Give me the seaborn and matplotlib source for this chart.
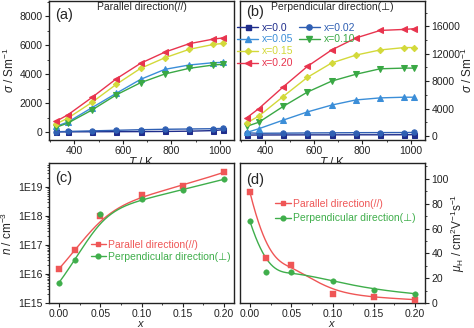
import numpy as np
import pandas as pd
import matplotlib
matplotlib.use("Agg")
import matplotlib.pyplot as plt
import seaborn as sns
from matplotlib.lines import Line2D
from matplotlib.ticker import MultipleLocator, FixedLocator, LogLocator, NullFormatter, FuncFormatter

# ---------------- data ----------------
temperature = [323, 373, 473, 573, 673, 773, 873, 973, 1013]
series_labels = ["x=0.0", "x=0.02", "x=0.05", "x=0.10", "x=0.15", "x=0.20"]

# electrical conductivity, parallel direction (S/m)
sig_par_000 = [10, 15, 20, 25, 30, 40, 60, 100, 160]
sig_par_002 = [20, 40, 80, 120, 160, 190, 210, 230, 250]
sig_par_005 = [385, 690, 1690, 2680, 3640, 4330, 4630, 4790, 4810]
sig_par_010 = [320, 620, 1530, 2570, 3410, 4010, 4400, 4630, 4680]
sig_par_015 = [550, 960, 2060, 3300, 4400, 5130, 5710, 6050, 6120]
sig_par_020 = [730, 1190, 2400, 3680, 4750, 5520, 6100, 6420, 6500]

# electrical conductivity, perpendicular direction (S/m)
sig_per_000 = [120, 130, 140, 150, 150, 160, 160, 170, 170]
sig_per_002 = [450, 380, 400, 430, 450, 470, 480, 490, 500]
sig_per_005 = [500, 1050, 2300, 3500, 4500, 5250, 5550, 5650, 5650]
sig_per_010 = [1400, 2000, 4300, 6400, 8000, 9000, 9800, 9900, 9900]
sig_per_015 = [1900, 2900, 5750, 8550, 10650, 11800, 12550, 12900, 12900]
sig_per_020 = [2650, 4000, 7150, 10150, 12550, 14300, 15400, 15550, 15650]

# carrier concentration and Hall mobility vs. x
x_content = [0.0, 0.02, 0.05, 0.10, 0.15, 0.20]
n_par = [1.5e16, 6.7e16, 1.0e18, 5.2e18, 1.13e19, 3.25e19]
n_per = [5.0e15, 3.0e16, 1.15e18, 3.9e18, 8.1e18, 1.87e19]
mu_par = [89.3, 36.0, 30.7, 7.5, 4.5, 2.7]
mu_per = [65.9, 25.1, 25.1, 17.9, 10.7, 7.5]

# ---------------- style ----------------
sns.set_theme(style="ticks")
plt.rcParams['font.family'] = ['Liberation Sans', 'DejaVu Sans']
plt.rcParams['mathtext.fontset'] = 'custom'
plt.rcParams['mathtext.rm'] = 'Liberation Sans'
plt.rcParams['mathtext.it'] = 'Liberation Sans:italic'
plt.rcParams['mathtext.bf'] = 'Liberation Sans:bold'
plt.rcParams['axes.linewidth'] = 1.0
plt.rcParams['axes.edgecolor'] = '#222222'

TICK_FS = 7.5
LABEL_FS = 8.5

colors = ["#1f2d8c", "#2f5fb3", "#3b8ed8", "#3aa845", "#d3d93a", "#e8344e"]
markers = ["s", "o", "^", "v", "D", "<"]
msizes = [3.6, 3.8, 4.0, 4.0, 3.2, 4.0]

red2 = "#ef5656"
green2 = "#3fae4b"


def bspline_curve(px, py, num=300, k=3):
    """Clamped uniform B-spline using the data points as control points."""
    px = np.asarray(px, float)
    py = np.asarray(py, float)
    n = len(px)
    inner = np.linspace(0.0, 1.0, n - k + 1)[1:-1]
    t = np.concatenate([np.zeros(k + 1), inner, np.ones(k + 1)])
    u = np.linspace(0.0, 1.0, num)
    m = len(t)
    N = np.zeros((m - 1, num))
    for i in range(m - 1):
        N[i] = ((u >= t[i]) & (u < t[i + 1])).astype(float)
    last = np.where(t < 1.0)[0][-1]
    N[last, u >= 1.0] = 1.0
    for p in range(1, k + 1):
        Nn = np.zeros((m - 1 - p, num))
        for i in range(m - 1 - p):
            term = np.zeros(num)
            d1 = t[i + p] - t[i]
            d2 = t[i + p + 1] - t[i + 1]
            if d1 > 0:
                term += (u - t[i]) / d1 * N[i]
            if d2 > 0:
                term += (t[i + p + 1] - u) / d2 * N[i + 1]
            Nn[i] = term
        N = Nn
    return N.T @ px, N.T @ py


def style_axis(ax, right=False):
    ax.tick_params(axis='both', which='major', direction='out', length=3, width=0.8,
                   labelsize=TICK_FS, colors='#222222', pad=1.5)
    ax.tick_params(axis='both', which='minor', direction='out', length=1.6, width=0.6,
                   colors='#222222')
    if right:
        ax.yaxis.tick_right()
        ax.yaxis.set_label_position('right')
        ax.tick_params(axis='y', which='both', left=False, right=True)
    else:
        ax.tick_params(axis='y', which='both', left=True, right=False)
    ax.tick_params(axis='x', which='both', top=False, bottom=True)


fig = plt.figure(figsize=(4.74, 3.28), dpi=100)
W, H = 474.0, 328.0
ax_a = fig.add_axes([49 / W, 1 - 140 / H, 185 / W, 139 / H])
ax_b = fig.add_axes([240 / W, 1 - 140 / H, 185 / W, 139 / H])
ax_c = fig.add_axes([49 / W, 1 - 303 / H, 185 / W, 140 / H])
ax_d = fig.add_axes([240 / W, 1 - 303 / H, 185 / W, 140 / H])

par_series = [sig_par_000, sig_par_002, sig_par_005, sig_par_010, sig_par_015, sig_par_020]
per_series = [sig_per_000, sig_per_002, sig_per_005, sig_per_010, sig_per_015, sig_per_020]

handles = []
for ax, data in ((ax_a, par_series), (ax_b, per_series)):
    for lab, vals, c, mk, ms in zip(series_labels, data, colors, markers, msizes):
        df = pd.DataFrame({"T": temperature, "sigma": vals})
        sns.lineplot(data=df, x="T", y="sigma", ax=ax, color=c, marker=mk,
                     markersize=ms, markeredgecolor=c, linewidth=1.0, sort=False)
        if ax is ax_b:
            handles.append(Line2D([], [], color=c, marker=mk, markersize=ms,
                                  markeredgecolor=c, linewidth=1.0, label=lab))

for ax in (ax_a, ax_b):
    ax.set_xlim(295, 1058)
    ax.xaxis.set_major_locator(MultipleLocator(200))
    ax.xaxis.set_minor_locator(MultipleLocator(100))
    ax.set_xlabel(r'$T$ / K', fontsize=LABEL_FS, labelpad=0.0)

ax_a.set_ylim(-550, 9050)
ax_a.yaxis.set_major_locator(MultipleLocator(2000))
ax_a.yaxis.set_minor_locator(MultipleLocator(1000))
ax_a.set_ylabel(r'$\sigma$ / Sm$^{-1}$', fontsize=LABEL_FS, labelpad=2)
style_axis(ax_a)

ax_b.set_ylim(-600, 19700)
ax_b.yaxis.set_major_locator(MultipleLocator(4000))
ax_b.yaxis.set_minor_locator(MultipleLocator(2000))
ax_b.set_ylabel(r'$\sigma$ / Sm$^{-1}$', fontsize=LABEL_FS, labelpad=0)
style_axis(ax_b, right=True)

ax_a.text(0.5, 0.955, "Parallel direction(//)", transform=ax_a.transAxes,
          ha='center', va='center', fontsize=7.5)
ax_b.text(0.5, 0.955, "Perpendicular direction(\u22a5)", transform=ax_b.transAxes,
          ha='center', va='center', fontsize=7.5)

# legend: first column 4 rows, second column 2 rows
blank = Line2D([], [], linestyle='none', marker=None, label=' ')
order = [handles[0], handles[2], handles[4], handles[5], handles[1], handles[3], blank, blank]
leg = ax_b.legend(handles=order, labels=[h.get_label() for h in order], ncol=2,
                  loc='upper left', bbox_to_anchor=(-0.015, 0.845), frameon=False,
                  fontsize=7.5, handlelength=2.0, handletextpad=0.4,
                  columnspacing=0.5, labelspacing=0.18, borderaxespad=0.0,
                  borderpad=0.0)
for txt, h in zip(leg.get_texts(), order):
    txt.set_color(h.get_color())

# ---------------- (c) carrier concentration ----------------
for vals, c, mk in ((n_par, red2, 's'), (n_per, green2, 'o')):
    cx, cy = bspline_curve(x_content, np.log10(vals))
    sns.lineplot(x=cx, y=10 ** cy, ax=ax_c, color=c, linewidth=1.0, sort=False)
    sns.scatterplot(x=x_content, y=vals, ax=ax_c, color=c, marker=mk, s=16,
                    edgecolor=c, linewidth=0.3, zorder=3)
ax_c.set_yscale('log')
ax_c.set_ylim(1e15, 6.8e19)
ax_c.yaxis.set_major_locator(FixedLocator([1e15, 1e16, 1e17, 1e18, 1e19]))
ax_c.yaxis.set_major_formatter(FuncFormatter(lambda v, p: "1E%d" % int(round(np.log10(v)))))
ax_c.yaxis.set_minor_locator(LogLocator(base=10, subs=np.arange(2, 10)))
ax_c.yaxis.set_minor_formatter(NullFormatter())
ax_c.set_ylabel(r'$n$ / cm$^{-3}$', fontsize=LABEL_FS, labelpad=2)
style_axis(ax_c)

# ---------------- (d) Hall mobility ----------------
for vals, c, mk in ((mu_par, red2, 's'), (mu_per, green2, 'o')):
    cx, cy = bspline_curve(x_content, vals)
    sns.lineplot(x=cx, y=cy, ax=ax_d, color=c, linewidth=1.0, sort=False)
    sns.scatterplot(x=x_content, y=vals, ax=ax_d, color=c, marker=mk, s=16,
                    edgecolor=c, linewidth=0.3, zorder=3)
ax_d.set_ylim(0, 112.8)
ax_d.yaxis.set_major_locator(MultipleLocator(20))
ax_d.yaxis.set_minor_locator(MultipleLocator(10))
ax_d.set_ylabel(r'$\mu_{\rm H}$ / cm$^{2}$V$^{-1}$s$^{-1}$', fontsize=LABEL_FS, labelpad=0)
style_axis(ax_d, right=True)

for ax in (ax_c, ax_d):
    ax.set_xlim(-0.012, 0.212)
    ax.xaxis.set_major_locator(MultipleLocator(0.05))
    ax.xaxis.set_minor_locator(MultipleLocator(0.025))
    ax.xaxis.set_major_formatter(FuncFormatter(lambda v, p: "%.2f" % v))
    ax.set_xlabel(r'$x$', fontsize=8, labelpad=-0.4)

dir_handles = [
    Line2D([], [], color=red2, marker='s', markersize=3.4, linewidth=1.0,
           label="Parallel direction(//)"),
    Line2D([], [], color=green2, marker='o', markersize=3.4, linewidth=1.0,
           label="Perpendicular direction(\u22a5)"),
]
for ax, anchor, lsp in ((ax_c, (0.225, 0.45), 0.15), (ax_d, (0.19, 0.745), 0.45)):
    lg = ax.legend(handles=dir_handles, loc='upper left', bbox_to_anchor=anchor,
                   frameon=False, fontsize=7.5, handlelength=1.5, handletextpad=0.2,
                   labelspacing=lsp, borderaxespad=0.0, borderpad=0.0)
    for txt, h in zip(lg.get_texts(), dir_handles):
        txt.set_color(h.get_color())
    lg.set_clip_on(False)

for ax, letter, y in ((ax_a, "(a)", 0.90), (ax_b, "(b)", 0.92), (ax_c, "(c)", 0.89), (ax_d, "(d)", 0.88)):
    ax.text(0.032, y, letter, transform=ax.transAxes, ha='left', va='center', fontsize=10.5)

fig.savefig("out.png", dpi=100)
